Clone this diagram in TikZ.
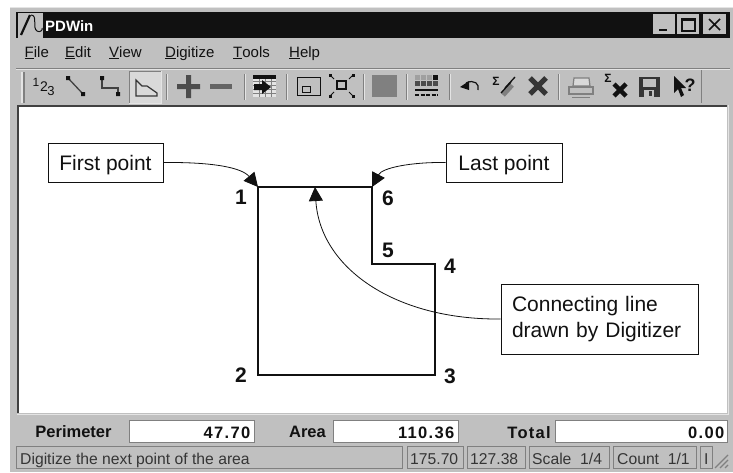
\documentclass[tikz,border=0pt]{standalone}
\usepackage{fontspec}
\setmainfont{Liberation Sans}
\newfontfamily\spacedfont[LetterSpace=8]{Liberation Sans}
\usetikzlibrary{arrows.meta}
\newcommand{\fs}[1]{\fontsize{#1}{#1}\selectfont}
\definecolor{wingray}{HTML}{C0C0C0}
\definecolor{winlight}{HTML}{E4E4E4}
\definecolor{windark}{HTML}{808080}
\definecolor{ink}{HTML}{111111}
\tikzset{
  callout/.style={draw=ink,line width=0.9pt,fill=white,inner sep=0pt,align=left,font=\fs{21},text=ink},
  ptlabel/.style={font=\fs{21}\bfseries,text=ink,inner sep=0pt},
  leader/.style={draw=ink,line width=0.8pt,-{Triangle[length=14pt,width=14pt]}},
  outline/.style={draw=ink,line width=2pt,line join=miter},
  menuitem/.style={font=\fs{15},text=ink,inner sep=0pt,anchor=base west},
  statlabel/.style={font=\fs{16.5}\bfseries,text=ink,inner sep=0pt},
  statval/.style={font=\spacedfont\fs{16.5}\bfseries,text=ink,inner sep=0pt,anchor=base east},
  field/.style={draw=windark,line width=1pt,fill=white},
  pane/.style={draw=windark,line width=1pt},
  panetext/.style={font=\fs{15.7},text=ink!85,inner sep=0pt,anchor=base west},
  sep/.style={draw=windark,line width=1pt},
  icon/.style={draw=ink!85,line width=1.2pt},
}
\begin{document}
\begin{tikzpicture}[x=1pt,y=-1pt]
\useasboundingbox (0,0) rectangle (733,472);
\fill[white] (0,0) rectangle (733,472);
% window
\fill[wingray] (10,7) rectangle (733,472);
\draw[winlight,line width=1pt] (10,7) -- (733,7);
\fill[ink] (16,12) rectangle (730,38);
% system icon
\fill[wingray] (18,13) rectangle (43,38);
\draw[ink,line width=2.2pt] (21,35) -- (30,15);
\draw[ink,line width=1pt] (31,15) .. controls (38,15) and (32,28) .. (37,31) .. controls (40,33) and (43,30) .. (42,28);
\node[font=\fs{15}\bfseries,text=white,inner sep=0pt,anchor=base west] (title) at (45,31) {PDWin};
% window buttons
\fill[wingray] (653,14) rectangle (675,34);
\draw[ink,line width=2pt] (659,30) -- (667,30);
\fill[wingray] (677,14) rectangle (699,34);
\draw[ink,line width=1.4pt] (682,19) rectangle (695,31);
\draw[ink,line width=1.4pt] (682,20) -- (695,20);
\fill[wingray] (703,14) rectangle (726,34);
\draw[ink,line width=1.6pt] (709,19) -- (720,30) (720,19) -- (709,30);
% menu
\node[menuitem] (mfile) at (24.5,57) {\underline{F}ile};
\node[menuitem] (medit) at (65,57) {\underline{E}dit};
\node[menuitem] (mview) at (109,57) {\underline{V}iew};
\node[menuitem] (mdig) at (165,57) {\underline{D}igitize};
\node[menuitem] (mtool) at (233,57) {\underline{T}ools};
\node[menuitem] (mhelp) at (289,57) {\underline{H}elp};
\draw[windark,line width=1pt] (16,68.5) -- (730,68.5);
\draw[winlight,line width=1pt] (16,69.5) -- (730,69.5);
% toolbar grip and end
\draw[winlight,line width=1.5pt] (22,72) -- (22,103);
\draw[windark,line width=1.5pt] (24,72) -- (24,103);
\draw[windark,line width=1pt] (701,70) -- (701,103);
\foreach \sx in {166,244,286,363,406,449,558} {
  \draw[sep] (\sx,74) -- (\sx,100);
  \draw[winlight,line width=.8pt] (\sx+1,74) -- (\sx+1,100);
}
% 1 2 3
\node[font=\fs{12},text=ink,inner sep=0pt] (t1) at (36,82) {1};
\node[font=\fs{14},text=ink,inner sep=0pt] (t2) at (44,87) {2};
\node[font=\fs{13},text=ink,inner sep=0pt] (t3) at (51,91) {3};
% line icon
\draw[ink!80,line width=1.3pt] (68,78) -- (83,94);
\fill[ink] (66,76) rectangle (70,80) (81,92) rectangle (85,96);
% polyline icon
\draw[ink!80,line width=1.3pt] (102,79) -- (102,88) -- (118,88) -- (118,94);
\fill[ink] (100,76) rectangle (104,80) (116,92) rectangle (120,96);
% area button
\fill[winlight!70!wingray] (129,71) rectangle (161,103);
\draw[winlight,line width=.8pt] (161,71) -- (161,103) -- (129,103);
\draw[windark,line width=.8pt] (129,103) -- (129,71) -- (161,71);
\draw[icon] (136,80) -- (136,96) -- (157,96) -- (157,93) -- (147,86) -- (142,86) -- cycle;
% plus, minus
\fill[ink!75] (177,84) rectangle (200,89) (186,75) rectangle (191,98);
\fill[ink!65] (210,84) rectangle (232,89);
% table icon
\fill[winlight] (253,75) rectangle (276,97);
\foreach \gy in {81,85,89,93} { \draw[windark,line width=.5pt] (253,\gy) -- (276,\gy); }
\foreach \gx in {259,265,271} { \draw[windark,line width=.5pt] (\gx,79) -- (\gx,97); }
\fill[ink] (253,75) rectangle (276,79);
\fill[ink] (254,84) -- (262,84) -- (262,80) -- (271,87) -- (262,94) -- (262,90) -- (254,90) -- cycle;
% window icon
\draw[ink,line width=1pt] (297,77) rectangle (320,95);
\draw[ink,line width=1pt] (302,86) rectangle (310,92);
% zoom extents
\draw[ink,line width=1.2pt] (337,81) rectangle (346,89);
\foreach \ax/\ay/\bx/\by in {334/79/330/75, 349/79/353/75, 334/92/330/96, 349/92/353/96} {
  \draw[ink,line width=1pt] (\ax,\ay) -- (\bx,\by);
  \fill[ink] (\bx-1.5,\by-1.5) rectangle (\bx+1.5,\by+1.5);
}
% grey square
\fill[windark] (372,75) rectangle (397,97);
% palette icon
\foreach \cx in {415,421,427,433} \foreach \cy/\sh in {75/40,81/75} {
  \fill[ink!\sh] (\cx,\cy) rectangle (\cx+4.5,\cy+4.5);
}
\fill[ink] (433,75) rectangle (437.5,79.5);
\draw[ink,line width=1.3pt] (415,90) -- (438,90);
\draw[ink,line width=1.3pt,dash pattern=on 4pt off 1.5pt] (415,95) -- (438,95);
% undo
\draw[ink,line width=1.2pt] (466,83) .. controls (474,79) and (480,84) .. (478,90);
\fill[ink] (460,87) -- (469,81) -- (469,90) -- cycle;
% sigma pencil
\node[font=\fs{12}\bfseries,text=ink,inner sep=0pt] (s1) at (496,81) {Σ};
\draw[windark,line width=5pt] (503,95) -- (512,85);
\draw[ink,line width=1.3pt] (505,88) -- (515,77);
\draw[ink,line width=1.3pt] (501,93) -- (511,82);
% X
\draw[ink!85,line width=5pt] (530,78) -- (546,94) (546,78) -- (530,94);
% printer
\draw[windark,line width=1.2pt,fill=wingray!60] (574,78) -- (589,78) -- (590,86) -- (573,86) -- cycle;
\draw[windark,line width=1.2pt,fill=wingray] (569,87) -- (593,87) -- (593,94) -- (569,94) -- cycle;
\draw[windark,line width=1pt] (572,97) -- (590,97);
% sigma x
\node[font=\fs{12}\bfseries,text=ink,inner sep=0pt] (s2) at (608,78) {Σ};
\draw[ink,line width=4.5pt] (614,84) -- (626,96) (626,84) -- (614,96);
% floppy
\fill[ink!85] (639,77) rectangle (660,97);
\fill[wingray] (643,79) rectangle (656,87);
\fill[wingray] (644,90) rectangle (654,97);
\fill[ink!85] (649,91) rectangle (652,96);
% help arrow
\fill[ink] (674,76) -- (674,93) -- (678,89) -- (681,97) -- (684,95) -- (681,88) -- (686,88) -- cycle;
\node[font=\fs{18}\bfseries,text=ink,inner sep=0pt] (q) at (690,85) {?};
% canvas
\fill[white] (17,105) rectangle (727,413);
\draw[ink!80,line width=2pt] (18,413) -- (18,106) -- (727,106);
\draw[winlight,line width=1pt] (17,414) -- (728,414) -- (728,105);
% polygon
\coordinate (p1) at (258,187);
\coordinate (p2) at (258,375);
\coordinate (p3) at (435,375);
\coordinate (p4) at (435,264);
\coordinate (p5) at (372,264);
\coordinate (p6) at (372,187);
\coordinate (tip) at (315,187);
\draw[outline] (p1) -- (p2) -- (p3) -- (p4) -- (p5) -- (p6) -- cycle;
% point labels
\node[ptlabel] (n1) at (241,197) {1};
\node[ptlabel] (n2) at (241,375) {2};
\node[ptlabel] (n3) at (450,376) {3};
\node[ptlabel] (n4) at (450,266) {4};
\node[ptlabel] (n5) at (388,250) {5};
\node[ptlabel] (n6) at (388,198) {6};
% callouts
\node[callout,minimum width=115pt,minimum height=39pt,text height=15pt,text depth=0pt] (first) at (105.5,162.5) {First point};
\node[callout,minimum width=116pt,minimum height=39pt,text height=15pt,text depth=0pt] (last) at (504,162.5) {Last point};
\node[callout,font=\fontsize{21}{26.5}\selectfont,minimum width=197pt,minimum height=70pt,text width=175pt] (conn) at (599.5,319) {Connecting line\\drawn by Digitizer};
\draw[leader] (first.east) .. controls (215,162) and (242,168) .. (p1);
\draw[leader] (last.west) .. controls (410,162) and (382,168) .. (p6);
\draw[leader] (conn.west) .. controls (395,320) and (320,268) .. (tip);
% bottom stats
\node[statlabel] (lper) at (73.5,432) {Perimeter};
\draw[field] (129.5,420.5) rectangle (254.5,442.5);
\node[statval] (vper) at (250.5,438) {47.70};
\node[statlabel] (lar) at (307.5,432) {Area};
\draw[field] (333.5,420.5) rectangle (458.5,442.5);
\node[statval] (var) at (454.5,438) {110.36};
\node[statval] (ltot) at (551,438) {Total};
\draw[field] (555.5,420.5) rectangle (727.5,442.5);
\node[statval] (vtot) at (724.5,438) {0.00};
% status bar
\draw[pane] (16.5,446.5) rectangle (402.5,468.5);
\draw[pane] (407.5,446.5) rectangle (463.5,468.5);
\draw[pane] (467.5,446.5) rectangle (525.5,468.5);
\draw[pane] (529.5,446.5) rectangle (609.5,468.5);
\draw[pane] (613.5,446.5) rectangle (696.5,468.5);
\draw[pane] (700.5,446.5) rectangle (712.5,468.5);
\node[panetext] (st0) at (20,464) {Digitize the next point of the area};
\node[panetext] (st1) at (410,464) {175.70};
\node[panetext] (st2) at (470,464) {127.38};
\node[panetext] (st3) at (532,464) {Scale\ \ 1/4};
\node[panetext] (st4) at (617,464) {Count\ \ 1/1};
\node[panetext] (st5) at (704,464) {I};
\foreach \gi in {0,5,10} {
  \draw[windark,line width=1.2pt] (715+\gi,468) -- (728,455+\gi);
}
\end{tikzpicture}
\end{document}
